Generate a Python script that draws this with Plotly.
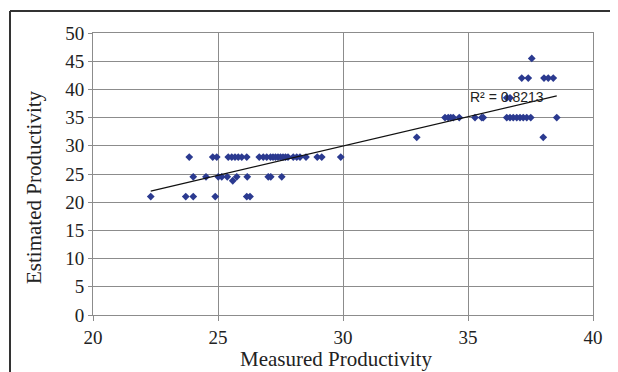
import numpy as np
import plotly.graph_objects as go

measured = [
    22.31, 23.71, 24.01, 24.89, 26.15, 26.28,
    25.59,
    24.01, 24.52, 25.01, 25.15, 25.37, 25.75, 26.17, 27.01, 27.11, 27.55,
    23.85, 24.79, 24.95, 25.41, 25.55, 25.68, 25.81, 25.95, 26.15, 26.65, 26.81, 26.95,
    27.10, 27.20, 27.30, 27.40, 27.50, 27.60, 27.70, 27.80, 28.01, 28.15, 28.28, 28.52,
    28.97, 29.15, 29.91,
    32.95, 38.01,
    34.08, 34.21, 34.31, 34.41, 34.65, 35.28, 35.55, 35.61, 36.55, 36.68, 36.81, 36.95,
    37.08, 37.21, 37.35, 37.51, 38.55,
    36.55, 36.68,
    37.15, 37.41, 38.04, 38.21, 38.41,
    37.55,
]
estimated = (
    [21.0] * 6
    + [23.8]
    + [24.5] * 10
    + [28.0] * 27
    + [31.5] * 2
    + [35.0] * 17
    + [38.5] * 2
    + [42.0] * 5
    + [45.5]
)
r2_label = "R² = 0.8213"
x_title = "Measured Productivity"
y_title = "Estimated Productivity"
x_ticks = [20, 25, 30, 35, 40]
y_ticks = [0, 5, 10, 15, 20, 25, 30, 35, 40, 45, 50]

xa = np.array(measured)
ya = np.array(estimated)
slope, intercept = np.polyfit(xa, ya, 1)
fit_x = np.array([xa.min(), xa.max()])
fit_y = slope * fit_x + intercept

serif = "Liberation Serif, Times New Roman, serif"
grid = "#8c8c8c"

fig = go.Figure()
fig.add_trace(go.Scatter(
    x=measured, y=estimated, mode="markers",
    marker=dict(symbol="diamond", size=6, color="#2b3a90"),
    showlegend=False, cliponaxis=False,
))
fig.add_trace(go.Scatter(
    x=fit_x, y=fit_y, mode="lines",
    line=dict(color="#111111", width=1.2),
    showlegend=False,
))
fig.add_annotation(
    x=35.0, y=38.6, xref="x", yref="y", text=r2_label, showarrow=False,
    xanchor="left", yanchor="middle",
    font=dict(family="Liberation Sans, Arial, sans-serif", size=14, color="#222222"),
)
# axis titles
fig.add_annotation(
    x=0.486, y=-0.156, xref="paper", yref="paper", text=x_title, showarrow=False,
    xanchor="center", yanchor="middle",
    font=dict(family=serif, size=21, color="#222222"),
)
fig.add_annotation(
    x=-0.118, y=0.454, xref="paper", yref="paper", text=y_title, showarrow=False,
    xanchor="center", yanchor="middle", textangle=-90,
    font=dict(family=serif, size=21, color="#222222"),
)

# outer frame lines (top and left)
fig.add_shape(type="line", xref="paper", yref="paper",
              x0=-0.166, x1=1.06, y0=1.078, y1=1.078,
              line=dict(color="#333333", width=2))
fig.add_shape(type="line", xref="paper", yref="paper",
              x0=-0.166, x1=-0.166, y0=-0.5, y1=1.078,
              line=dict(color="#333333", width=2))

fig.update_layout(
    width=610, height=364,
    margin=dict(l=85, r=25, t=25, b=57),
    paper_bgcolor="white", plot_bgcolor="white",
    font=dict(family=serif, size=19, color="#222222"),
)
fig.update_xaxes(
    range=[20, 40], tickvals=x_ticks, ticks="outside", ticklen=5, tickcolor=grid,
    showgrid=True, gridcolor=grid, gridwidth=1,
    showline=True, linecolor=grid, mirror=True, zeroline=False, automargin=False,
    tickfont=dict(family=serif, size=19),
)
fig.update_yaxes(
    range=[0, 50], tickvals=y_ticks, ticks="outside", ticklen=4, tickcolor=grid,
    showgrid=True, gridcolor=grid, gridwidth=1,
    showline=True, linecolor=grid, mirror=True, zeroline=False, automargin=False,
    tickfont=dict(family=serif, size=19),
    ticksuffix='<span style="color:rgba(0,0,0,0)">0</span>',
)

fig.write_html("out.html")
